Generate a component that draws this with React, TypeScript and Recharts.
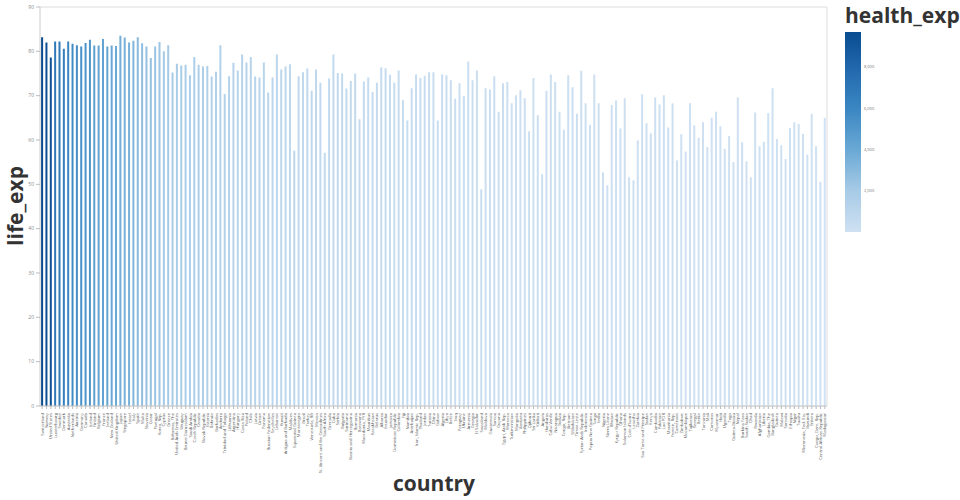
import React from "react";
import { BarChart, Bar, XAxis, YAxis, CartesianGrid, Cell } from "recharts";

const countries: string[] = [
  "Switzerland", "Norway", "United States", "Luxembourg", "Sweden", "Denmark", "Australia", "Netherlands", "Austria", "Germany",
  "Canada", "Iceland", "Finland", "Belgium", "France", "Ireland", "New Zealand", "United Kingdom", "Japan", "Singapore",
  "Israel", "Italy", "Spain", "Malta", "Slovenia", "Qatar", "Portugal", "Korea, Rep.", "Cyprus", "Greece",
  "Bahamas, The", "United Arab Emirates", "Uruguay", "Brunei Darussalam", "Saudi Arabia", "Czech Republic", "Croatia", "Slovak Republic", "Estonia", "Bahrain",
  "Barbados", "Andorra", "Trinidad and Tobago", "Lithuania", "Argentina", "Hungary", "Costa Rica", "Poland", "Chile", "Latvia",
  "Oman", "Panama", "Russian Federation", "Seychelles", "Lebanon", "Kuwait", "Antigua and Barbuda", "Maldives", "Equatorial Guinea", "Montenegro",
  "Brazil", "Turkey", "Venezuela, RB", "Mexico", "St. Vincent and the Grenadines", "South Africa", "Grenada", "Cuba", "Serbia", "Bulgaria",
  "Suriname", "Bosnia and Herzegovina", "Romania", "Botswana", "Macedonia, FYR", "Mauritius", "Kazakhstan", "Belarus", "Albania", "Ecuador",
  "Jamaica", "Dominican Republic", "Colombia", "Fiji", "Namibia", "Azerbaijan", "Iran, Islamic Rep.", "Thailand", "Jordan", "Tunisia",
  "China", "Gabon", "Algeria", "Libya", "Belize", "Iraq", "Paraguay", "Ukraine", "Armenia", "Georgia",
  "El Salvador", "Swaziland", "Moldova", "Guatemala", "Samoa", "Guyana", "Egypt, Arab Rep.", "Morocco", "Turkmenistan", "Mongolia",
  "Vanuatu", "Philippines", "Djibouti", "Sri Lanka", "Kiribati", "Angola", "Honduras", "Cabo Verde", "Nicaragua", "Bolivia",
  "Congo, Rep.", "Vietnam", "Uzbekistan", "Timor-Leste", "Syrian Arab Republic", "Indonesia", "Papua New Guinea", "Tonga", "India", "Nigeria",
  "Sierra Leone", "Bhutan", "Kyrgyz Republic", "Ghana", "Solomon Islands", "Cote d'Ivoire", "Lesotho", "Zambia", "Sao Tome and Principe", "Sudan",
  "Kenya", "Cambodia", "Pakistan", "Lao PDR", "Mauritania", "Yemen, Rep.", "Cameroon", "Zimbabwe", "Mozambique", "Tajikistan",
  "Senegal", "Benin", "Tanzania", "Mali", "Comoros", "Myanmar", "Haiti", "Uganda", "Togo", "Guinea-Bissau",
  "Nepal", "Burkina Faso", "South Sudan", "Chad", "Rwanda", "Afghanistan", "Liberia", "Gambia, The", "Bangladesh", "Guinea",
  "Malawi", "Somalia", "Ethiopia", "Niger", "Tuvalu", "Micronesia, Fed. Sts.", "Burundi", "Eritrea", "Congo, Dem. Rep.", "Central African Republic",
  "Madagascar",
];

const lifeExp: number[] = [
  83.2, 82.0, 78.6, 82.2, 82.2, 80.6, 82.2, 81.7, 81.4, 81.1,
  81.9, 82.6, 81.3, 81.3, 82.8, 81.1, 81.3, 81.2, 83.5, 83.1,
  82.0, 82.4, 83.2, 81.8, 81.1, 78.5, 81.1, 82.1, 80.0, 81.4,
  75.2, 77.2, 76.8, 77.0, 74.6, 78.7, 77.0, 76.6, 76.7, 74.3,
  75.4, 81.4, 70.4, 74.4, 77.4, 75.7, 79.3, 77.5, 78.7, 74.3,
  74.1, 77.5, 70.7, 74.1, 79.3, 75.9, 76.6, 77.1, 57.6, 74.4,
  75.3, 76.1, 71.1, 75.9, 72.9, 57.1, 73.9, 79.3, 75.1, 75.0,
  71.6, 73.3, 75.0, 64.7, 73.2, 74.1, 70.8, 72.9, 76.4, 76.2,
  74.7, 72.9, 75.7, 69.0, 64.4, 71.7, 74.8, 74.0, 74.5, 75.3,
  75.3, 64.4, 74.8, 74.6, 73.5, 69.3, 72.8, 70.0, 77.7, 73.5,
  75.7, 48.9, 71.7, 71.4, 74.4, 66.4, 72.8, 73.1, 68.3, 70.1,
  71.2, 69.4, 62.0, 74.0, 65.6, 52.3, 71.1, 74.8, 73.1, 66.4,
  62.3, 74.6, 71.9, 65.9, 75.6, 68.3, 63.4, 74.8, 68.3, 52.7,
  49.8, 67.9, 68.9, 62.6, 69.4, 51.6, 50.9, 59.9, 70.3, 63.8,
  61.5, 69.6, 68.0, 70.1, 62.8, 68.3, 55.4, 61.3, 57.4, 68.3,
  63.3, 60.5, 64.0, 58.4, 65.0, 66.4, 63.1, 58.0, 60.9, 55.0,
  69.6, 59.5, 55.2, 51.6, 66.2, 58.6, 59.6, 66.1, 71.7, 60.2,
  58.8, 55.7, 62.7, 64.0, 63.6, 61.4, 56.7, 65.9, 58.6, 50.6,
  65.0,
];

const healthExp: number[] = [
  9674, 9522, 9403, 6812, 6808, 6463, 6031, 5694, 5580, 5411,
  5292, 5062, 4612, 4392, 4359, 4239, 4018, 3935, 3703, 3545,
  3491, 3258, 2966, 2795, 2598, 2585, 2400, 2361, 2062, 2030,
  1985, 1868, 1812, 1794, 1748, 1713, 1679, 1652, 1561, 1508,
  1483, 1421, 1368, 1341, 1302, 1268, 1251, 1219, 1192, 1151,
  1113, 1081, 1047, 1021, 988, 962, 931, 906, 881, 859,
  834, 812, 791, 768, 751, 732, 709, 688, 671, 652,
  628, 613, 597, 586, 571, 553, 541, 527, 511, 497,
  486, 471, 457, 446, 433, 419, 409, 395, 386, 373,
  364, 351, 343, 331, 323, 312, 305, 294, 288, 279,
  272, 262, 257, 248, 243, 234, 229, 221, 216, 208,
  204, 196, 192, 185, 182, 175, 172, 165, 162, 156,
  154, 148, 146, 140, 138, 132, 130, 124, 122, 117,
  116, 111, 110, 105, 104, 99, 98, 93, 92, 87,
  86, 83, 82, 79, 78, 75, 74, 71, 70, 67,
  66, 63, 62, 59, 58, 55, 54, 51, 50, 47,
  47, 45, 45, 43, 42, 39, 38, 36, 36, 33,
  33, 31, 31, 29, 28, 26, 26, 23, 21, 16,
  15,
];

const yTicks: number[] = [0, 10, 20, 30, 40, 50, 60, 70, 80, 90];
const legendTicks: number[] = [2000, 4000, 6000, 8000];
const colorMin = 0;
const colorMax = 9690;

const data = countries.map((c, i) => ({ country: c, life_exp: lifeExp[i], health_exp: healthExp[i] }));

const stops: [number, string][] = [
  [0, "#cfe1f2"],
  [0.21, "#a6cae6"],
  [0.41, "#6aa9d5"],
  [0.62, "#3a86c2"],
  [0.83, "#1f66ab"],
  [1, "#0a4c90"],
];

function hexToRgb(h: string) {
  const n = parseInt(h.slice(1), 16);
  return [(n >> 16) & 255, (n >> 8) & 255, n & 255];
}

function colorFor(v: number) {
  const t = Math.max(0, Math.min(1, (v - colorMin) / (colorMax - colorMin)));
  for (let i = 1; i < stops.length; i++) {
    if (t <= stops[i][0]) {
      const [t0, c0] = stops[i - 1];
      const [t1, c1] = stops[i];
      const f = (t - t0) / (t1 - t0);
      const a = hexToRgb(c0);
      const b = hexToRgb(c1);
      const r = a.map((x, k) => Math.round(x + (b[k] - x) * f));
      return `rgb(${r[0]},${r[1]},${r[2]})`;
    }
  }
  return stops[stops.length - 1][1];
}

const FONT = "'Open Sans', 'DejaVu Sans', sans-serif";

const XTick = (props: any) => {
  const { x, y, payload } = props;
  const yy = y + 2;
  return (
    <text
      x={x}
      y={yy}
      transform={`rotate(-90 ${x} ${yy})`}
      textAnchor="end"
      dominantBaseline="central"
      fontSize={4.2}
      fill="#555"
      fontFamily={FONT}
    >
      {payload.value}
    </text>
  );
};

const barTop = 32;
const barBottom = 232;
const barH = barBottom - barTop;
const legendY = (v: number) => barBottom - ((v - colorMin) / (colorMax - colorMin)) * barH;

export default function App() {
  return (
    <div style={{ position: "absolute", left: 0, top: 0, width: 960, height: 500, background: "#fff", fontFamily: FONT }}>
      <BarChart
        width={960}
        height={500}
        data={data}
        margin={{ top: 7, right: 132, bottom: 34, left: 10 }}
        barCategoryGap={1.1}
      >
        <CartesianGrid vertical={false} stroke="#dcdcdc" strokeWidth={1} />
        <XAxis
          dataKey="country"
          interval={0}
          tick={<XTick />}
          tickSize={3}
          tickLine={{ stroke: "#bbb" }}
          axisLine={{ stroke: "#ccc" }}
          height={60}
        />
        <YAxis
          yAxisId="left"
          domain={[0, 90]}
          ticks={yTicks}
          width={30}
          tickSize={4}
          tickLine={{ stroke: "#bbb" }}
          axisLine={{ stroke: "#ccc" }}
          tick={{ fontSize: 5, fill: "#888", fontFamily: FONT }}
        />
        <YAxis
          yAxisId="right"
          orientation="right"
          domain={[0, 90]}
          tick={false}
          tickLine={false}
          width={1}
          axisLine={{ stroke: "#dcdcdc" }}
        />
        <Bar yAxisId="left" dataKey="life_exp" isAnimationActive={false}>
          {data.map((d, i) => (
            <Cell key={i} fill={colorFor(d.health_exp)} />
          ))}
        </Bar>
      </BarChart>
      <svg width={960} height={500} style={{ position: "absolute", left: 0, top: 0, pointerEvents: "none" }}>
        <defs>
          <linearGradient id="cbar" x1="0" y1="1" x2="0" y2="0">
            {stops.map(([t, c], i) => (
              <stop key={i} offset={t} stopColor={c} />
            ))}
          </linearGradient>
        </defs>
        <text
          x={23}
          y={206}
          transform="rotate(-90 23 206)"
          textAnchor="middle"
          fontSize={21}
          fontWeight="bold"
          fill="#333"
          fontFamily={FONT}
        >
          life_exp
        </text>
        <text x={434} y={491} textAnchor="middle" fontSize={21} fontWeight="bold" fill="#333" fontFamily={FONT}>
          country
        </text>
        <text x={845} y={23} fontSize={21} fontWeight="bold" fill="#333" fontFamily={FONT}>
          health_exp
        </text>
        <rect x={845} y={barTop} width={16} height={barH} fill="url(#cbar)" />
        {legendTicks.map((t) => (
          <text key={t} x={864} y={legendY(t)} dominantBaseline="central" fontSize={4} fill="#777" fontFamily={FONT}>
            {t.toLocaleString("en-US")}
          </text>
        ))}
      </svg>
    </div>
  );
}
